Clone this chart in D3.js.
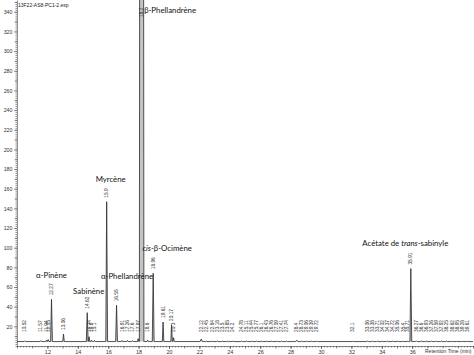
<!DOCTYPE html>
<html><head><meta charset="utf-8">
<script src="https://cdn.jsdelivr.net/npm/d3@7"></script>
<style>body{margin:0;background:#fff}svg{display:block}</style>
</head><body><svg id="c" width="474" height="355"></svg>
<script>
// ---------- data ----------
const fileName = "13F22-AS8-PC1-2.esp";
const xAxisTitle = "Retention Time (min)";
const xTickValues = [12,14,16,18,20,22,24,26,28,30,32,34,36];
const yTickValues = [20,40,60,80,100,120,140,160,180,200,220,240,260,280,300,320,340];
const baselineLevel = 4.5;
// retention times (min), peak heights (above baseline), peak half-widths (min), printed labels
const peakTimes = [10.52,11.57,11.94,12.05,12.27,13.06,14.62,14.74,14.9,15.1,15.9,16.55,16.91,17.26,17.6,17.97,18.2,18.6,18.96,19.61,20.17,20.3,
  22.12,22.45,22.84,23.18,23.5,23.85,24.2,24.78,25.11,25.44,25.77,26.1,26.43,26.76,27.09,27.41,27.74,28.4,28.73,29.06,29.39,29.72,
  32.1,33.06,33.38,33.71,34.02,34.37,34.72,35.06,35.4,35.71,35.91,
  36.27,36.6,36.93,37.26,37.59,37.92,38.25,38.62,38.95,39.28,39.61];
const peakHeights = [0.8,1,1.5,2,43,7.7,29.4,5,1.5,1.2,142.3,36.9,1.2,1.2,1,3,3000,1.5,69.5,19.9,16.9,4,
  2.5,0.5,0.5,0.5,0.5,0.5,0.5,0.5,0.5,0.5,0.5,0.5,0.5,0.5,0.5,0.5,0.5,1.5,0.5,0.5,0.5,0.5,
  0.5,0.5,0.5,0.5,0.5,0.5,0.5,0.5,0.5,0.5,74.3,
  0.8,0.5,0.5,0.5,0.5,0.5,0.5,0.5,0.5,0.5,0.5];
const peakHalfWidths = [0.05,0.05,0.05,0.05,0.06,0.05,0.06,0.05,0.05,0.05,0.06,0.06,0.05,0.05,0.05,0.05,0.15,0.05,0.06,0.05,0.05,0.05,
  0.08,0.05,0.05,0.05,0.05,0.05,0.05,0.05,0.05,0.05,0.05,0.05,0.05,0.05,0.05,0.05,0.05,0.08,0.05,0.05,0.05,0.05,
  0.05,0.05,0.05,0.05,0.05,0.05,0.05,0.05,0.05,0.05,0.06,
  0.05,0.05,0.05,0.05,0.05,0.05,0.05,0.05,0.05,0.05,0.05];
const peakLabels = ["10.52","11.57","11.94","12.05","12.27","13.06","14.62","14.74","14.9","15.1","15.9","16.55","16.91","17.26","17.6","17.97","18.2","18.6","18.96","19.61","20.17","20.3",
  "22.12","22.45","22.84","23.18","23.5","23.85","24.2","24.78","25.11","25.44","25.77","26.1","26.43","26.76","27.09","27.41","27.74","28.4","28.73","29.06","29.39","29.72",
  "32.1","33.06","33.38","33.71","34.02","34.37","34.72","35.06","35.4","35.71","35.91",
  "36.27","36.6","36.93","37.26","37.59","37.92","38.25","38.62","38.95","39.28","39.61"];
// identified compounds (italic parts between *)
const compoundNames = ["α-Pinène","Sabinène","Myrcène","α-Phellandrène","β-Phellandrène","*cis*-β-Ocimène","Acétate de *trans*-sabinyle"];
const compoundTimes = [12.27,14.62,15.9,16.55,18.2,18.96,35.91];

// ---------- layout / style ----------
const svg = d3.select("#c");
const x = d3.scaleLinear().domain([10,40]).range([17,473]);
const y = d3.scaleLinear().domain([0,352]).range([346,0]);
const nameOffsets = { // px offsets from peak apex
  "α-Pinène":[0,-21], "Sabinène":[1.5,-19], "Myrcène":[4,-20], "α-Phellandrène":[10.5,-26.5],
  "*cis*-β-Ocimène":[14,-22], "Acétate de *trans*-sabinyle":[-5.5,-22.5]
};

svg.append("defs").append("clipPath").attr("id","plot")
  .append("rect").attr("x",17).attr("y",0).attr("width",457).attr("height",346);

// chromatogram
const peaks = peakTimes.map((t,i)=>({t,h:peakHeights[i],w:peakHalfWidths[i],label:peakLabels[i]}))
  .sort((a,b)=>a.t-b.t);
const pts = [[x.domain()[0],baselineLevel]];
peaks.forEach(p=>{ pts.push([p.t-p.w,baselineLevel],[p.t,baselineLevel+p.h],[p.t+p.w,baselineLevel]); });
pts.push([x.domain()[1],baselineLevel]);

const g = svg.append("g").attr("clip-path","url(#plot)");
g.append("path").datum(pts)
  .attr("d", d3.area().x(d=>x(d[0])).y0(y(baselineLevel)).y1(d=>y(d[1])))
  .attr("fill","#c4c4c4");
g.append("path").datum(pts)
  .attr("d", d3.line().x(d=>x(d[0])).y(d=>y(d[1])))
  .attr("fill","none").attr("stroke","#2a2a2a").attr("stroke-width",0.8);

// axes
const axFont = "Liberation Sans, Arial, sans-serif";
const yMinor = svg.append("g").attr("transform","translate(17,0)")
  .call(d3.axisLeft(y).tickValues(d3.range(0,352,2)).tickSize(1.5).tickFormat(""));
yMinor.select(".domain").remove();
const yMid = svg.append("g").attr("transform","translate(17,0)")
  .call(d3.axisLeft(y).tickValues(d3.range(10,352,20)).tickSize(2.3).tickFormat(""));
yMid.select(".domain").remove();
const yAx = svg.append("g").attr("transform","translate(17,0)")
  .call(d3.axisLeft(y).tickValues(yTickValues).tickSize(3).tickSizeOuter(0).tickPadding(1.5));
yAx.selectAll("text").attr("font-size","5.3px").attr("font-family",axFont).attr("fill","#333");

const xMinor = svg.append("g").attr("transform","translate(0,346)")
  .call(d3.axisBottom(x).tickValues(d3.range(10,40.01,0.2)).tickSize(1.5).tickFormat(""));
xMinor.select(".domain").remove();
const xMid = svg.append("g").attr("transform","translate(0,346)")
  .call(d3.axisBottom(x).tickValues(d3.range(10,41,1)).tickSize(2.5).tickFormat(""));
xMid.select(".domain").remove();
const xAx = svg.append("g").attr("transform","translate(0,346)")
  .call(d3.axisBottom(x).tickValues(xTickValues).tickSize(3).tickSizeOuter(0).tickPadding(1).tickFormat(d3.format("d")));
xAx.selectAll("text").attr("font-size","5.5px").attr("font-family",axFont).attr("fill","#333");
svg.selectAll("g line, g .domain").attr("stroke","#444").attr("stroke-width",0.6);

svg.append("text").attr("x",425).attr("y",353).attr("font-size","5px").attr("font-family",axFont)
  .attr("fill","#333").text(xAxisTitle);
svg.append("text").attr("x",18).attr("y",6.5).attr("font-size","5px").attr("font-family",axFont)
  .attr("fill","#222").text(fileName);

// retention-time labels (vertical)
svg.append("g").selectAll("text").data(peaks).join("text")
  .attr("transform", p=>{
    const bottom = Math.max(Math.min(y(baselineLevel+p.h)-4, 332), 17);
    return `translate(${x(p.t)},${bottom}) rotate(-90)`;
  })
  .attr("dominant-baseline","central")
  .attr("font-size","4.8px").attr("font-family",axFont).attr("fill","#333")
  .text(p=>p.label);

// compound names
const nameFont = "Lato, 'Open Sans', sans-serif";
compoundNames.forEach((name,i)=>{
  const t = compoundTimes[i];
  const p = peaks.find(d=>d.t===t);
  const top = y(baselineLevel+p.h);
  let tx, ty, anchor;
  if (top < 20) { tx = x(t)+2.5; ty = 13.3; anchor = "start"; }
  else { const o = nameOffsets[name]; tx = x(t)+o[0]; ty = top+o[1]; anchor = "middle"; }
  const txt = svg.append("text").attr("x",tx).attr("y",ty).attr("text-anchor",anchor)
    .attr("font-size","7.8px").attr("font-family",nameFont).attr("fill","#111");
  name.split("*").forEach((seg,j)=>{
    if (!seg) return;
    txt.append("tspan").attr("font-style", j%2 ? "italic" : "normal").text(seg);
  });
});
</script></body></html>
